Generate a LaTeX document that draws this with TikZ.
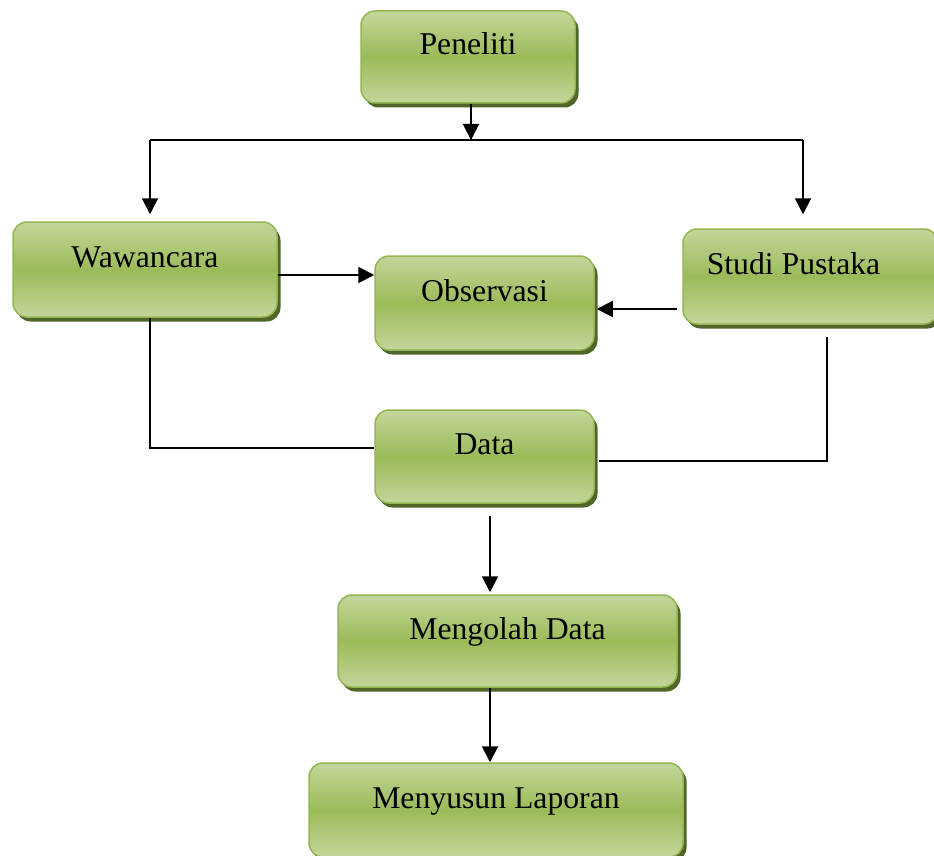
\documentclass[tikz,border=0pt]{standalone}
\usepackage{fontspec}
\setmainfont{Liberation Serif}
\usetikzlibrary{arrows.meta,shadows,calc}
\definecolor{boxlight}{HTML}{C3D69B}
\definecolor{boxmid}{HTML}{9BBB59}
\definecolor{boxedge}{HTML}{94B552}
\definecolor{boxshadow}{HTML}{4F6628}
\tikzset{
  greenbox/.style={rectangle, rounded corners=14pt, draw=boxedge, line width=1.5pt,
    top color=boxlight, bottom color=boxlight, middle color=boxmid,
    drop shadow={shadow xshift=3.5pt, shadow yshift=-4.5pt, fill=boxshadow, opacity=1},
    inner sep=0pt, text height=22pt, text depth=26pt,
    font=\fontsize{31.7}{38}\selectfont},
  conn/.style={line width=2pt, black},
  arr/.style={conn, -{Triangle[width=16pt,length=16pt]}}
}
\begin{document}
\begin{tikzpicture}[x=1pt,y=-1pt]
\useasboundingbox (0,0) rectangle (934,856);
\begin{scope}
\clip (0,0) rectangle (934,856);
\node[greenbox, minimum width=214pt, minimum height=92pt] (pen) at (468,57) {Peneliti};
\node[greenbox, minimum width=264pt, minimum height=95pt] (waw) at (145,269.5) {Wawancara};
\node[greenbox, minimum width=219pt, minimum height=94pt] (obs) at (484.5,303) {Observasi};
\node[greenbox, minimum width=255pt, minimum height=95pt] (stu) at (810.5,276.5) {Studi Pustaka\hspace*{34pt}};
\node[greenbox, minimum width=219pt, minimum height=93pt] (dat) at (484.5,456.5) {Data};
\node[greenbox, minimum width=339pt, minimum height=92pt] (men) at (507.5,641) {Mengolah Data};
\node[greenbox, minimum width=374pt, minimum height=94pt] (lap) at (496,810) {Menyusun Laporan};
\end{scope}
\coordinate (j) at (471,140);
\coordinate (L) at (150,140);
\coordinate (R) at (803,140);
\draw[arr] (j |- pen.south) -- (j);
\draw[conn] (L) -- (R);
\draw[arr, shorten >=7pt] (L) -- (L |- waw.north);
\draw[arr, shorten >=14pt] (R) -- (R |- stu.north);
\draw[arr] (waw.east |- 0,275) -- (obs.west |- 0,275);
\draw[arr, shorten <=5pt] (stu.west |- 0,309) -- ([xshift=2pt]obs.east |- 0,309);
\draw[conn] (waw.south -| 150,0) -- (150,448) -- (dat.west |- 0,448);
\draw[conn, shorten <=12pt] (stu.south -| 827,0) -- (827,461) -- ([xshift=4pt]dat.east |- 0,461);
\draw[arr, shorten <=12pt, shorten >=2pt] (dat.south -| 490,0) -- (men.north -| 490,0);
\draw[arr] (men.south -| 490,0) -- (lap.north -| 490,0);
\end{tikzpicture}
\end{document}
